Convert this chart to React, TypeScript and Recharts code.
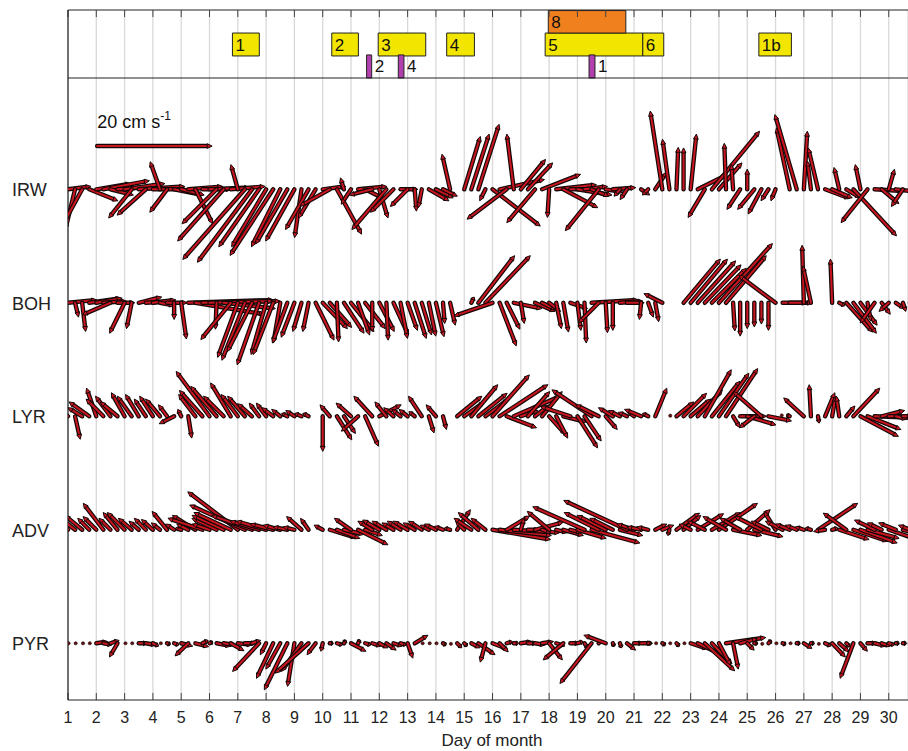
import React from "react";
import {
  ComposedChart,
  Scatter,
  XAxis,
  YAxis,
  CartesianGrid,
  ReferenceArea,
  ReferenceLine,
} from "recharts";

type Vec = [number, number] | null;

// day ticks and sampling (4 samples per day, 6-hourly)
const DAYS = [1, 2, 3, 4, 5, 6, 7, 8, 9, 10, 11, 12, 13, 14, 15, 16, 17, 18, 19, 20, 21, 22, 23, 24, 25, 26, 27, 28, 29, 30];
const SAMPLES_PER_DAY = 4;

// current vectors [u, v] in cm/s, one row per day
const IRW: Vec[][] = [
  [[4, 0.5], [-1.7, -7], [-3, -5.5], [5, -2]],
  [[6, 1], [8, 1.5], [4, -1], [7, 0.5]],
  [[7, 1], [-4, -5], [8, 0.5], [-5, -4.5]],
  [[6, 0], [-1.7, 4.8], [-3, -4], [5, -1]],
  [[4, -1], [6, 0.5], [3, -6], [5, 0]],
  [[7, 0.3], [-6, -6], [-8, -9], [6, 0.5]],
  [[-1.2, 4.3], [-10.8, -12.2], [-9.5, -12.7], [-7, -10]],
  [[-6, -10], [-7.5, -11.5], [-5, -10], [-5.5, -9.5]],
  [[-5, -9], [-1.2, -8.4], [-4, -7], [-3, -5]],
  [[4, 0.5], [-5.2, -2.9], [4.3, -7.8], [-0.6, 2]],
  [[-1.7, -2.6], [5, 0.5], [3, -1.5], [-4, -1]],
  [[1.5, -5], [-6, -7], [-4, -4], [3, 0]],
  [[-3, -3], [0.3, -3.8], [-0.6, -3.2], [3.5, -2]],
  [[3, -1.5], [2.5, -1.2], [-1.4, 6.1], null],
  [[2.8, 9.2], [3.1, 9.6], [3.6, 11.3], [-1, -2]],
  [[8.3, -6.4], [7.8, 1.7], [-6.9, -5.2], [-1.2, 9.6]],
  [[4.3, 5.2], [4.3, 4.6], [-4.9, -5.8], [6.7, 2.6]],
  [[-0.3, -4.9], [7, 0.8], [6, -3.2], [5, 0]],
  [[6, -1], [4, 0.5], [3, -1.2], [-5.8, -7.2]],
  [[3, -0.5], [4, 0.3], [-1, -1.2], [-1.2, -1.8]],
  [null, [1.5, -1], [-1, -1], [2, 3]],
  [[-2.1, 13.6], [-1.2, 8.7], [0.3, 7.3], [0, 7.2]],
  [[1, 9.6], [5, 2.5], [-2.9, -4.9], [8.3, 10.1]],
  [[4, 4.6], [-0.3, 8], [-0.3, 4.3], [-2.3, -3.5]],
  [[0, 3.5], [-2.9, -3.5], [-2.3, -4.3], [-1.3, -2]],
  [[-0.8, -2], null, [-2.3, 10.7], [-3.8, 13]],
  [[0.6, 10.1], [-0.6, 4.9], [-1.7, 7.2], [4.3, -1.6]],
  [[3.5, -1.5], [-0.9, 3.8], [2.5, -1.5], [7.5, -8.1]],
  [[-0.9, 4.3], [-4.6, -5.8], [5, -0.3], [3, -2.5]],
  [[1, 3.5], [4, -0.5], [-2, -3], [3, -1]],
];

const BOH: Vec[][] = [
  [[5, 0.5], [0.6, -2.5], [0.6, -5], [5.5, 0.8]],
  [[4.5, 0.8], [4, 0.3], [-4.9, -2.1], [3, 0]],
  [[-2.6, -5.3], [-0.9, -4.5], [4, 1], [5, 0.3]],
  [[4, 0.5], [2.5, -0.5], [3.5, 0], [0, -2.9]],
  [[0.9, -6.3], [14.8, 0.5], [12, -2], [13.5, 0.3]],
  [[11, 0.3], [-0.2, -4.6], [9, -1], [-5.2, -6.4]],
  [[-3.5, -9.5], [-4, -10], [-4.3, -8.5], [-3.8, -10.8]],
  [[-2.6, -9], [-3.5, -9], [-1.2, -7], [-2.6, -7]],
  [[-2.3, -6], [-1.5, -5], [-1, -5], [3.2, -6.5]],
  [[4.3, -4.5], [3.8, -4.3], [0.3, -6.8], [3.5, -5.3]],
  [[4, -5], [2, -5.6], [3.5, -4.5], [0, -5]],
  [[2.6, -5], [0.3, -6.5], [2.6, -5.6], [1.2, -6.2]],
  [[1.7, -4.8], [2, -6.2], [1.7, -5.6], [1.2, -5.8]],
  [[1.4, -5.9], [0.3, -3.6], [0.9, -3.9], null],
  [null, [0.5, 1], [6.3, 8.2], [7.8, 8.2]],
  [[-6.7, -2.3], [2.9, -7.5], [2.3, -4.6], [4.9, -1]],
  [[0.6, -3.6], null, [3.5, -1.5], [2.5, -1.2]],
  [[2, -1.5], [0.9, -4.5], [0.9, -5.1], [3, -1]],
  [[0.6, -4.8], [0.3, -7], [8.1, 0.5], [-3.5, -3.5]],
  [[0.3, -5.2], [0, -4.8], [4, 0.3], [3, 0]],
  [null, [-0.3, -2.9], [0.9, -2.5], [0.6, -3.3]],
  [[-3.2, 1.6], null, null, [6.4, 7.6]],
  [[6.4, 7.6], [6.6, 7.3], [6.3, 6.6], [6, 6]],
  [[9.3, 10.3], [7, 8.2], [0.3, -4.9], [0, -5.8]],
  [[0, -4.5], [0, -4.2], [0, -3.7], [0, -4.8]],
  [[-6.4, 4.8], [5.2, 0], [3, 0], null],
  [[-0.3, 10], [-1.4, 6.4], null, null],
  [[-0.3, 7.6], [1, -0.5], [4.6, -5.1], [4, -5.3]],
  [[2.9, -3.9], [0.6, -3.2], [-2.5, -3.5], [1.5, -2]],
  [[-1.7, -1.5], [1.5, -1], [0.5, -1.5], [1, -0.5]],
];

const LYR: Vec[][] = [
  [[-3, 3], [0.9, -4], [-2.5, 1.5], [-3.5, 2.5]],
  [[-1.7, 4.9], [-3, 3], [-2.6, 3.5], [-3, 2.5]],
  [[-2.3, 4.1], [-2.5, 3.5], [-2.3, 3.8], [-2, 3]],
  [[-2.3, 3.5], [-2.5, 3], [-1.5, 2], [-2.6, -1.3]],
  [[-0.6, 1.2], [0.6, -3.8], [-2.9, 3.8], [-4, 4.5]],
  [[-5.8, 7.8], [-4.5, 5.2], [-3.5, 3.5], [-3.5, 5.8]],
  [[-2.9, 3.8], [-3, 3.5], [-2.5, 2.2], [-1.7, 2.3]],
  [[-1.7, 2.3], [-2, 1.5], [-1.5, 1.2], [-1, 0.5]],
  [[-1.5, 1], [-1.2, 0.5], [-1, 0.5], null],
  [[0, -6.1], [-1.7, 2], [2.6, -4.1], [2, -3]],
  [[-2.6, 2.3], [-2.9, -2.6], [2.3, -5.2], [-3.2, 3.5]],
  [[3.8, 2], [-2, 2.5], [-1.7, 1.5], [-1.5, 1.2]],
  [[-1.5, 1.2], [-1, 0.8], [-2.3, 3.5], [0.9, -2.9]],
  [[-1.7, 2], [0.6, -2.3], null, [4.3, 3.5]],
  [[3.5, 2.5], [4.6, 5.5], [5, 4], [4, 3]],
  [[6.4, 7.2], [8.4, 5.5], [5.2, -2], [8.1, 3.5]],
  [[3, 1], [3.8, 4.3], [2.5, 2], [3.5, 4.3]],
  [[2.9, -3.2], [2, -3.8], [4, -1], [-5.2, 1.7]],
  [[3.5, -5.5], [2.9, -4.3], [-6.9, 4.6], [-4, 2]],
  [[2, -2.3], [-2.5, 1.5], [-2, 1], [-1.5, 0.7]],
  [[-1, 0.7], [-2.9, 1.2], [-1, 0.5], [2, 4.9]],
  [null, [0.3, 0.2], [3, 2.5], [4, 4]],
  [[3.5, 3], [4.3, 4.6], [4.6, 8.1], [4.9, 6.1]],
  [[5.2, 7.5], [5.5, 8.3], [1.2, -2], [4.6, 0]],
  [[5, -1.5], [-2.6, -2], [-4.9, 4.3], [4, -0.8]],
  [null, [-0.3, 0.3], [-0.5, 0.2], null],
  [[-3.5, 3.2], [-0.3, 5.5], [0.2, -1.2], [1.7, 4.1]],
  [[0.6, 3.5], [-0.5, 3.5], [1.5, 1.8], [4.6, 4.9]],
  [[6.6, -3.5], [5.8, -2.3], [7.5, -0.3], [4, 1]],
  [[3, 0], [2, -0.5], [1.5, 0], [2, 0.3]],
];

const ADV: Vec[][] = [
  [[-3.5, 3.5], [-2.5, 2], [-3, 2.5], [-2, 2]],
  [[-2.3, 2.3], [-3.5, 4.6], [-2, 2], [-2.5, 3]],
  [[-3, 3], [-2.3, 2], [-1.7, 1.5], [-2, 2]],
  [[-2, 1.8], [-1.5, 1.2], [-2.6, 3.2], [-1.5, 1]],
  [[-1, 0.3], [-2, 1], [-4, 2.5], [-6, 2]],
  [[-3, 1], [-4.3, 2], [-5.5, 2.5], [-6.4, 3]],
  [[-8.7, 6.6], [-9.6, 4.3], [-7, 2.5], [-5, 1.5]],
  [[-5.2, 1.5], [-4, 1], [-3, 0.8], [-2.5, 0.5]],
  [[-2, 0.5], [-2.6, 2.3], [-1.4, 2], null],
  [[-1.5, 0.8], [4.6, -1.4], [4, -1.5], [3.5, -0.8]],
  [[-2.9, 2], [5.2, -2.6], [3, -1], [-2.5, 1.5]],
  [[-2.9, 1.7], [-2.5, 1.5], [-2, 1.2], [-2.3, 1.5]],
  [[-2.5, 1.5], [-2, 1.2], [-2.3, 1.5], [-1.5, 0.8]],
  [[-2, 1], [-1.5, 0.6], [-1, 0.3], [2.3, 3.5]],
  [[-1.5, 1.5], [-3, 2], [-3.5, 3], [-2.5, 2]],
  [[10.1, -1.7], [9, -1], [4, 2.4], [8, -0.5]],
  [[0.6, 2], [2, 0], [4.9, 1.3], [1.5, -0.5]],
  [[-3.8, 3.2], [2, -0.5], [3.5, -1], [2, -0.5]],
  [[5, -1.5], [-9, 4], [8.4, -2.3], [-6, 3]],
  [[-5, 2.5], [-4, 2], [4, -1], [-11, 5.1]],
  [[-3, 1], [-2.5, 0.5], [-2, 0.5], [2, 1]],
  [[2, 0.8], [-0.3, -1], [4, 2.9], [3, 2.5]],
  [[-2, 1], [4.5, 2.8], [-3, 1.5], [5, 3]],
  [[6.7, 4.6], [-4, 2.3], [5, -1], [-3.5, 2]],
  [[4, 3.5], [5, -1.2], [-4.6, 2.3], [-3, 1.5]],
  [[-2, 3.2], [-3, 1.5], [-2.5, 1], [-2, 0.8]],
  [[-1.5, 0.5], [-1, 0.3], [6.9, 4.6], [-2, -0.3]],
  [[1, 0.3], [5.2, -1.7], [-4, 2.9], [6, -2]],
  [[6.4, -2.3], [5.5, -1.5], [-3.5, 1.7], [-2.5, 1.2]],
  [[5, -1.7], [-3, 1.2], [4, -1.2], [-2, 0.8]],
];

const PYR: Vec[][] = [
  [[0.2, 0], [0.2, 0], [0.3, 0], [0.2, 0]],
  [[2, 0.3], [1.5, -0.3], [1.5, 0.5], [-1.4, -2.4]],
  [[0.3, 0], [0.2, 0], [1.5, 0], [1.8, -0.3]],
  [[1, -0.5], [0.3, 0], [0.5, -0.2], [0.8, -0.3]],
  [[2, -0.5], [-2.3, -2.2], [2.3, -0.6], [1, 0.5]],
  [[0.5, 0.2], [2.5, -0.5], [2, -0.3], [2.3, -1.3]],
  [[2.5, -0.3], [2, 0], [1.5, 0.5], [-4.6, -4.9]],
  [[-1, -2], [-2.9, -6.1], [-2.5, -4.5], [-4, -8.1]],
  [[-1.2, -7.5], [-3.5, -4.9], [-5.8, -5.2], [-1.5, -2]],
  [[-0.3, -1.4], [0.5, 0], [1, -0.3], [0.3, 0.5]],
  [[2.6, -1.4], [0.3, 0.6], [1, -0.3], [1.5, -0.5]],
  [[1.5, -0.8], [1.7, -1.2], [1.5, -0.5], [1, -0.3]],
  [[0.9, -2.6], [2.3, 1.4], [0.3, 0], [0.3, 0]],
  [[0.2, 0], [0.5, -0.3], [0.3, -0.2], [0.8, -0.8]],
  [[0.5, -0.5], [1.5, -0.8], [2.9, -2], [-0.9, -3.3]],
  [[2.6, -1], [1.5, -1.5], [1, 0.3], [0.8, 0]],
  [[2, 0.3], [1.5, 0], [1.8, -0.3], [2, 0.3]],
  [[2.3, -2.9], [1.5, -0.5], [-3.5, -2.9], [1.5, 0]],
  [[1, 0.3], [0.5, -0.8], [-5.5, -7], [0.3, 0.5]],
  [[-3.8, 1.4], [0.2, -0.5], [0.3, -0.8], [1.5, -1.2]],
  [[1.5, 0], [2, 0], [0.5, 0], [0.3, 0]],
  [[0.5, -0.3], [0.3, 0], [0.5, -0.5], [0.3, 0]],
  [[3, -1], [5.2, -2.5], [5.2, -4.8], [3.5, -3.6]],
  [[2, -3.8], [6.9, 1], [0.9, -4.5], [3, 0.8]],
  [[1.2, -1.2], [0.5, 0], [0.3, -0.2], [0.5, 0.5]],
  [[0.3, 0], [0.5, -0.2], [0.3, 0], [0.5, 0]],
  [[1.4, -0.9], [0.5, 0], [0.3, -0.2], [1, -0.5]],
  [[2.3, -2.4], [1.7, -1.5], [0.6, -0.6], [-2.3, -6.1]],
  [[1.2, -1.4], [1.5, 0], [2, -0.5], [1.5, -0.5]],
  [[1, -0.3], [0.5, 0], [0.5, 0], [0.8, 0]],
];

const STATION_NAMES = ["IRW", "BOH", "LYR", "ADV", "PYR"];
const STATION_DATA = [IRW, BOH, LYR, ADV, PYR];
const STATION_ROWS = [5, 4, 3, 2, 1];

// event windows (days)
const YELLOW_EVENTS = [
  { label: "1", start: 6.81, end: 7.76 },
  { label: "2", start: 10.32, end: 11.26 },
  { label: "3", start: 11.96, end: 13.64 },
  { label: "4", start: 14.38, end: 15.36 },
  { label: "5", start: 17.86, end: 21.31 },
  { label: "6", start: 21.31, end: 22.05 },
  { label: "1b", start: 25.41, end: 26.56 },
];
const ORANGE_EVENTS = [{ label: "8", start: 17.97, end: 20.71 }];
const PURPLE_EVENTS = [
  { label: "2", start: 11.55, end: 11.73 },
  { label: "4", start: 12.67, end: 12.87 },
  { label: "1", start: 19.41, end: 19.62 },
];

const SCALE_SPEED = 20; // cm/s

// layout
const W = 908;
const H = 751;
const Y_MIN = 0.5;
const Y_MAX = 6.58;
const PANEL_SPLIT = 5.981;
const LANE_PURPLE: [number, number] = [5.981, 6.184];
const LANE_YELLOW: [number, number] = [6.175, 6.377];
const LANE_ORANGE: [number, number] = [6.377, 6.575];
const SCALE_Y = 5.381;
const SCALE_X = 2.03;
const TICK_LEN = 0.062;
const PX_PER_CMS = 5.75;
const RED = "#c8151f";
const OUTLINE = "#140808";
const FONT = "'Liberation Sans', Arial, sans-serif";

const stationPoints = (rows: Vec[][], row: number) => {
  const pts: { t: number; y: number; u: number; v: number }[] = [];
  rows.forEach((day, i) => {
    day.forEach((vec, k) => {
      if (!vec) return;
      pts.push({ t: DAYS[i] + k / SAMPLES_PER_DAY, y: row, u: vec[0], v: vec[1] });
    });
  });
  return pts;
};

function stick(cx: number, cy: number, u: number, v: number) {
  const dx = u * PX_PER_CMS;
  const dy = -v * PX_PER_CMS;
  const len = Math.hypot(dx, dy);
  if (len < 2.5) {
    return <circle cx={cx + dx / 2} cy={cy + dy / 2} r={1.6} fill="#6e1010" stroke={OUTLINE} strokeWidth={0.6} />;
  }
  const ux = dx / len;
  const uy = dy / len;
  const tipX = cx + dx;
  const tipY = cy + dy;
  const head = Math.min(5, len * 0.45);
  const bx = tipX - ux * head;
  const by = tipY - uy * head;
  const w = 2.4;
  const pts = `${tipX},${tipY} ${bx - uy * w},${by + ux * w} ${bx + uy * w},${by - ux * w}`;
  return (
    <g>
      <line x1={cx} y1={cy} x2={bx} y2={by} stroke={OUTLINE} strokeWidth={4.4} strokeLinecap="round" />
      <line x1={cx} y1={cy} x2={bx} y2={by} stroke={RED} strokeWidth={2} strokeLinecap="round" />
      <polygon points={pts} fill={RED} stroke={OUTLINE} strokeWidth={1} />
    </g>
  );
}

const StickShape = (props: any) => {
  const { cx, cy, payload } = props;
  if (cx == null || cy == null || !payload) return <g />;
  return stick(cx, cy, payload.u, payload.v);
};

const ScaleShape = (props: any) => {
  const { cx, cy, payload } = props;
  if (cx == null || cy == null) return <g />;
  return (
    <g>
      {stick(cx, cy, payload.u, payload.v)}
      <text x={cx} y={cy - 18} fontSize={18} fill="#111" fontFamily={FONT}>
        20 cm s
        <tspan dy={-8} fontSize={12}>-1</tspan>
      </text>
    </g>
  );
};

const StationTick = (props: any) => {
  const { y, payload } = props;
  const idx = STATION_ROWS.indexOf(payload.value);
  if (idx < 0) return <g />;
  return (
    <text x={12} y={y} dy={7} fontSize={18} fill="#222" fontFamily={FONT}>
      {STATION_NAMES[idx]}
    </text>
  );
};

export default function App() {
  return (
    <div style={{ position: "absolute", left: 0, top: 0, width: W, height: H, background: "#fff", overflow: "hidden", fontFamily: FONT }}>
      <ComposedChart width={W} height={H} margin={{ top: 10, right: 0, bottom: 0, left: 0 }}>
        <CartesianGrid vertical={true} horizontal={false} stroke="#d9d9d9" strokeWidth={1.3} />
        <XAxis
          type="number"
          dataKey="t"
          domain={[1, 30.68]}
          ticks={DAYS}
          allowDataOverflow
          height={51}
          tickLine={false}
          tickSize={6}
          tickMargin={6}
          axisLine={{ stroke: "#222", strokeWidth: 1.2 }}
          tick={{ fontSize: 16, fill: "#222" }}
          label={{ value: "Day of month", position: "insideBottom", offset: 5, dx: 4, fontSize: 17, fill: "#222" }}
        />
        <YAxis
          type="number"
          dataKey="y"
          domain={[Y_MIN, Y_MAX]}
          ticks={STATION_ROWS}
          allowDataOverflow
          width={68}
          tickLine={false}
          axisLine={{ stroke: "#222", strokeWidth: 1.2 }}
          tick={<StationTick />}
        />

        {YELLOW_EVENTS.map((e) => (
          <ReferenceArea
            key={`y-${e.label}`}
            x1={e.start}
            x2={e.end}
            y1={LANE_YELLOW[0]}
            y2={LANE_YELLOW[1]}
            fill="#f2e600"
            fillOpacity={1}
            stroke="#222"
            strokeWidth={1}
            label={{ value: e.label, position: "insideLeft", offset: 3, fontSize: 17, fill: "#111" }}
          />
        ))}
        {ORANGE_EVENTS.map((e) => (
          <ReferenceArea
            key={`o-${e.label}`}
            x1={e.start}
            x2={e.end}
            y1={LANE_ORANGE[0]}
            y2={LANE_ORANGE[1]}
            fill="#f07f1e"
            fillOpacity={1}
            stroke="#222"
            strokeWidth={1}
            label={{ value: e.label, position: "insideLeft", offset: 3, fontSize: 17, fill: "#111" }}
          />
        ))}
        {PURPLE_EVENTS.map((e) => (
          <ReferenceArea
            key={`p-${e.label}`}
            x1={e.start}
            x2={e.end}
            y1={LANE_PURPLE[0]}
            y2={LANE_PURPLE[1]}
            fill="#b23fae"
            fillOpacity={1}
            stroke="#222"
            strokeWidth={1}
            label={{ value: e.label, position: "right", offset: 3, fontSize: 17, fill: "#111" }}
          />
        ))}

        <ReferenceLine y={Y_MAX} stroke="#222" strokeWidth={1.2} />
        <ReferenceLine y={PANEL_SPLIT} stroke="#222" strokeWidth={1.2} />
        {DAYS.map((d) => (
          <ReferenceLine
            key={`tt-${d}`}
            segment={[{ x: d, y: Y_MAX }, { x: d, y: Y_MAX - TICK_LEN }]}
            stroke="#444"
            strokeWidth={1}
          />
        ))}
        {DAYS.map((d) => (
          <ReferenceLine
            key={`bt-${d}`}
            segment={[{ x: d, y: Y_MIN }, { x: d, y: Y_MIN + TICK_LEN }]}
            stroke="#444"
            strokeWidth={1}
          />
        ))}

        <Scatter
          data={[{ t: SCALE_X, y: SCALE_Y, u: SCALE_SPEED, v: 0 }]}
          dataKey="y"
          shape={<ScaleShape />}
          isAnimationActive={false}
        />
        {STATION_DATA.map((rows, i) => (
          <Scatter
            key={STATION_NAMES[i]}
            name={STATION_NAMES[i]}
            data={stationPoints(rows, STATION_ROWS[i])}
            dataKey="y"
            shape={<StickShape />}
            isAnimationActive={false}
          />
        ))}
      </ComposedChart>
    </div>
  );
}
